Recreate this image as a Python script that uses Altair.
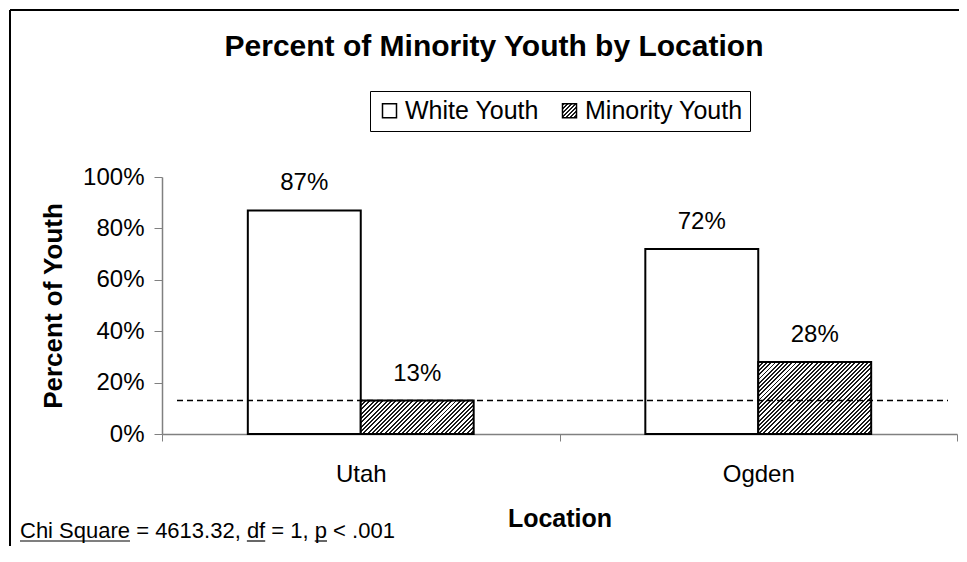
import json
import altair as alt
import pandas as pd

# ---- data ----
locations = ["Utah", "Ogden"]
groups = ["White Youth", "Minority Youth"]
white_pct = [87, 72]
minority_pct = [13, 28]
reference_line = [13]
chart_title = "Percent of Minority Youth by Location"
stats_note = "Chi Square = 4613.32, df = 1, p < .001"
underlined = ["Chi Square", "df", "p"]

# ---- layout ----
W, H = 795, 257
PAD_L, PAD_T = 154, 169
FONT = "Liberation Sans"
OFFSET_PAD = 0.76
bar_w = (W / 2) / (2 + 2 * OFFSET_PAD)

rows = []
for loc, w, m in zip(locations, white_pct, minority_pct):
    rows.append({"loc": loc, "grp": groups[0], "pct": w})
    rows.append({"loc": loc, "grp": groups[1], "pct": m})
df = pd.DataFrame(rows)


def hatch(ratio, n, duty=0.45, ink="#1a1a1a"):
    s = (1 + ratio) / (1 + ratio * ratio)
    stops = []
    for i in range(n):
        a, b, c = i / n, (i + duty) / n, (i + 1) / n
        stops += [
            {"offset": round(a, 5), "color": ink},
            {"offset": round(b, 5), "color": ink},
            {"offset": round(b, 5), "color": "white"},
            {"offset": round(c, 5), "color": "white"},
        ]
    return {"gradient": "linear", "x1": 0, "y1": 0,
            "x2": round(s, 5), "y2": round(s * ratio, 5), "stops": stops}


conds = []
for loc, m in zip(locations, minority_pct):
    h = m / 100 * H
    ratio = h / bar_w
    n = max(4, round((bar_w + h) / 2 ** 0.5 / 3.0))
    conds.append({"test": f"datum.grp === '{groups[1]}' && datum.loc === '{loc}'",
                  "value": hatch(ratio, n)})

legend_hatch = hatch(1.0, 7)

x_enc = alt.X("loc:N", sort=locations, title="Location",
              scale=alt.Scale(paddingInner=0, paddingOuter=0),
              axis=alt.Axis(labelAngle=0, tickBand="extent", tickSize=7,
                            tickColor="#808080", domainColor="#808080", domainWidth=1.5,
                            labelFontSize=24, labelPadding=21, labelColor="black",
                            titleFontSize=25, titleFontWeight="bold", titlePadding=20,
                            titleColor="black"))
xo_enc = alt.XOffset("grp:N", sort=groups,
                     scale=alt.Scale(paddingInner=0, paddingOuter=OFFSET_PAD))
y_enc = alt.Y("pct:Q", title="Percent of Youth",
              scale=alt.Scale(domain=[0, 100], nice=False),
              axis=alt.Axis(values=[0, 20, 40, 60, 80, 100], labelExpr="datum.value + '%'",
                            grid=False, tickSize=8, tickColor="#808080",
                            domainColor="#808080", domainWidth=1.5,
                            labelFontSize=24, labelPadding=10, labelColor="black",
                            titleFontSize=26, titleFontWeight="bold", titlePadding=16,
                            titleColor="black"))

base = alt.Chart(df)

bars = base.mark_bar(stroke="black", strokeWidth=2).encode(
    x=x_enc, xOffset=xo_enc, y=y_enc,
    fill=alt.Fill("grp:N", sort=groups,
                  scale=alt.Scale(domain=groups,
                                  range=["white", {"expr": json.dumps(legend_hatch)}]),
                  legend=alt.Legend(title=None, orient="none", legendX=208, legendY=-86,
                                    direction="horizontal", strokeColor="black",
                                    fillColor="white", padding=7, cornerRadius=0,
                                    symbolType="square", symbolSize=196,
                                    symbolStrokeColor="black", symbolStrokeWidth=1.5,
                                    labelFontSize=25, labelColor="black", labelLimit=400,
                                    labelOffset=3, columnPadding=18),
                  condition=conds),
)

labels = base.mark_text(fontSize=24, baseline="middle", dy=-27, color="black").encode(
    x=alt.X("loc:N", sort=locations), xOffset=alt.XOffset("grp:N", sort=groups),
    y="pct:Q", text=alt.Text("label:N"),
).transform_calculate(label="datum.pct + '%'")

ref = alt.Chart(pd.DataFrame({"pct": reference_line})).mark_rule(
    color="black", strokeWidth=1.5, strokeDash=[6, 4]
).encode(y="pct:Q", x=alt.value(15), x2=alt.value(786))

title = alt.Chart(pd.DataFrame({"t": [chart_title]})).mark_text(
    align="center", baseline="alphabetic", fontSize=30, fontWeight="bold", color="black"
).encode(text="t:N", x=alt.value(494 - 162), y=alt.value(56 - 177))

# statistics note with underlined terms
widths = {"C": .722, "h": .556, "i": .222, " ": .278, "S": .667, "q": .556, "u": .556,
          "a": .556, "r": .333, "e": .556, "=": .584, "4": .556, "6": .556, "1": .556,
          "3": .556, "2": .556, ".": .278, ",": .278, "d": .556, "f": .278, "p": .556,
          "<": .584, "0": .556}
NOTE_SIZE = 22
note_x, note_y = 20 - 162, 538 - 177


def text_w(s):
    return sum(widths.get(ch, .556) for ch in s) * NOTE_SIZE


ul_rows = []
pos = 0
for term in underlined:
    idx = stats_note.index(term, pos)
    x0 = note_x + text_w(stats_note[:idx])
    ul_rows.append({"x0": x0, "x1": x0 + text_w(term)})
    pos = idx + len(term)

note = alt.Chart(pd.DataFrame({"t": [stats_note]})).mark_text(
    align="left", baseline="alphabetic", fontSize=NOTE_SIZE, color="black"
).encode(text="t:N", x=alt.value(note_x), y=alt.value(note_y))

underline = alt.Chart(pd.DataFrame(ul_rows)).mark_rule(color="black", strokeWidth=1.2).encode(
    x=alt.X("x0:Q", scale=None), x2="x1:Q", y=alt.value(note_y + 3)
)

frame_top = alt.Chart(pd.DataFrame({"a": [0]})).mark_rule(color="black", strokeWidth=2).encode(
    x=alt.value(-152), x2=alt.value(W + 2), y=alt.value(-167)
)
frame_left = alt.Chart(pd.DataFrame({"a": [0]})).mark_rule(color="black", strokeWidth=2).encode(
    x=alt.value(-152), y=alt.value(-167), y2=alt.value(H + 140)
)

chart = alt.layer(bars, ref, labels, title, note, underline, frame_top, frame_left).properties(
    width=W, height=H,
    autosize=alt.AutoSizeParams(type="none"),
    padding={"left": PAD_L, "top": PAD_T, "right": 2, "bottom": 112},
).configure(font=FONT).configure_view(stroke=None)

chart.save("out.html", embed_options={"renderer": "svg", "actions": False})
